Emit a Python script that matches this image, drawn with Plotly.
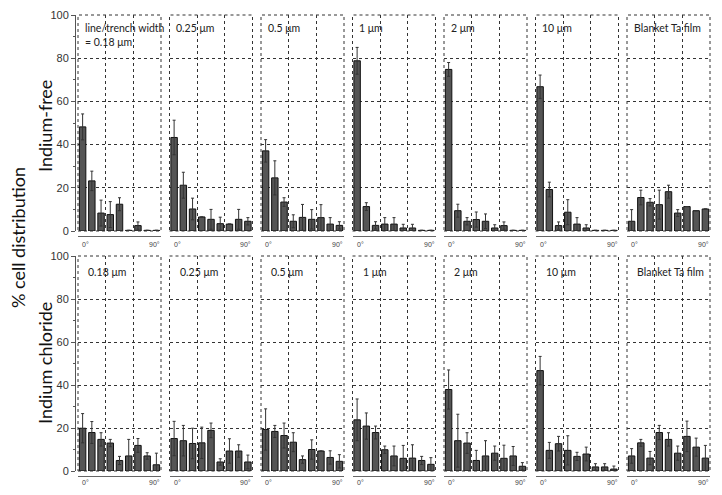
import plotly.graph_objects as go
from plotly.subplots import make_subplots

# 10-degree angle bins, 0..90
angles = [5, 15, 25, 35, 45, 55, 65, 75, 85]
angle_ends = ["0°", "90°"]

top_labels = ["line/trench width<br>= 0.18 μm", "0.25 μm", "0.5 μm", "1 μm",
              "2 μm", "10 μm", "Blanket Ta film"]
bottom_labels = ["0.18 μm", "0.25 μm", "0.5 μm", "1 μm",
                 "2 μm", "10 μm", "Blanket Ta film"]

# Indium-free (top row)
free_vals = [
    [48.2, 23.2, 8.3, 7.6, 12.4, 0.3, 2.5, 0.3, 0.3],
    [43.3, 21.2, 10.2, 6.5, 5.4, 3.4, 3.2, 5.4, 4.5],
    [37.1, 24.6, 13.4, 4.5, 6.3, 5.4, 6.2, 3.2, 2.6],
    [78.8, 11.3, 2.6, 3.2, 3.2, 1.4, 1.4, 0.3, 0.3],
    [74.8, 9.4, 4.5, 5.3, 4.5, 1.4, 2.5, 0.3, 0.3],
    [66.8, 19.2, 2.5, 8.7, 3.2, 1.4, 0.3, 0.3, 0.3],
    [4.5, 15.5, 13.3, 12.2, 18.2, 8.3, 11.3, 9.4, 10.2],
]
free_err = [
    [6.0, 4.5, 6.0, 6.0, 3.0, None, 1.7, None, None],
    [8.0, 6.0, 5.0, None, 4.6, 3.0, None, 4.6, 1.7],
    [5.2, 7.9, 2.0, 3.0, 6.0, 4.5, 6.0, 3.0, 1.7],
    [6.2, 1.8, 1.7, 3.0, 3.0, 1.7, 1.7, None, None],
    [3.2, 3.0, 1.7, 3.5, 3.4, 1.5, 1.7, None, None],
    [5.4, 3.4, 1.7, 5.8, 3.0, 1.5, None, None, None],
    [5.4, 3.4, 1.7, 6.7, 3.0, 1.6, None, None, None],
]

# Indium chloride (bottom row)
chloride_vals = [
    [19.9, 17.9, 14.7, 13.0, 4.9, 7.0, 11.9, 7.0, 2.9],
    [15.1, 14.1, 12.8, 13.1, 18.9, 4.2, 9.3, 9.3, 4.2],
    [19.3, 18.4, 16.5, 13.4, 5.3, 10.0, 9.3, 6.3, 4.5],
    [23.8, 20.9, 17.9, 9.9, 7.0, 5.9, 6.0, 4.9, 3.1],
    [37.9, 14.1, 13.0, 4.9, 7.0, 8.3, 5.9, 7.0, 2.2],
    [46.7, 9.6, 12.7, 9.6, 6.8, 7.9, 1.9, 1.9, 0.9],
    [7.0, 13.1, 6.0, 17.9, 14.7, 8.3, 16.1, 11.1, 6.0],
]
chloride_err = [
    [6.8, 5.1, 3.1, 1.7, 1.9, 7.7, 3.2, 1.5, 5.4],
    [8.0, 7.1, 7.1, 7.3, 3.4, 1.5, 5.7, 2.9, 3.2],
    [9.6, 2.8, 5.8, 4.4, 1.7, 4.5, None, 3.1, 3.1],
    [9.7, 6.1, 3.0, 1.7, 4.6, 6.0, 6.2, 1.9, 3.1],
    [9.1, 12.3, 4.8, 4.7, 7.1, 3.3, 6.1, 4.4, 1.7],
    [6.6, 3.7, 3.4, 6.8, 1.9, 3.2, 1.5, 1.5, 1.4],
    [3.4, 1.6, 3.1, 3.3, 3.1, 3.3, 7.1, 4.2, 5.9],
]

# the page body has an 8px margin, so the figure is drawn 8px in from the window edge
PAD = 8
W, H = 722 - 2 * PAD, 495 - 2 * PAD


def px(x):
    return (x - PAD) / W


def py(y):
    return 1 - (y - PAD) / H


fig = make_subplots(rows=2, cols=7)

rows = [(free_vals, free_err, top_labels), (chloride_vals, chloride_err, bottom_labels)]
row_px = [(15, 231), (256, 471)]      # top / bottom pixel (window coords) of each row
bracket_px = [236, 476]
end_label_px = [244, 482]
label_pos = [(0.06, 0.975), (0.1, 0.965)]

for r, (vals, errs, labels) in enumerate(rows):
    for c in range(7):
        fig.add_trace(go.Bar(
            x=angles, y=vals[c],
            marker=dict(color="#555555", line=dict(color="#111111", width=1)),
            error_y=dict(type="data", array=errs[c], color="#333333",
                         thickness=1, width=1.5),
            width=7,
        ), row=r + 1, col=c + 1)

        left = 78 + c * 91.5
        ytop, ybot = row_px[r]
        fig.update_xaxes(
            domain=[px(left), px(left + 83)], range=[0, 90], automargin=False,
            anchor="free", position=py(bracket_px[r]),
            tickvals=[0, 90], showticklabels=False,
            ticks="inside", ticklen=4, tickcolor="#666666",
            showline=True, linecolor="#666666", linewidth=1,
            showgrid=False, zeroline=False,
            minor=dict(tickmode="array", tickvals=[30, 60], showgrid=True,
                       gridcolor="#333333", griddash="dot", gridwidth=1, ticks=""),
            row=r + 1, col=c + 1)

        yargs = dict(
            domain=[py(ybot), py(ytop)], range=[0, 100], automargin=False,
            tickvals=[0, 20, 40, 60, 80, 100],
            showgrid=True, gridcolor="#333333", griddash="dot", gridwidth=1,
            zeroline=False,
        )
        if c == 0:
            yargs.update(
                anchor="free", position=px(75),
                showline=True, linecolor="#555555", linewidth=1,
                ticks="outside", ticklen=4, tickcolor="#555555",
                tickfont=dict(family="Liberation Sans", size=11, color="#333333"),
                minor=dict(dtick=10, ticks="outside", ticklen=2, tickcolor="#555555"),
            )
        else:
            yargs.update(showticklabels=False, ticks="")
        fig.update_yaxes(**yargs, row=r + 1, col=c + 1)

        n = r * 7 + c + 1
        xref = "x domain" if n == 1 else f"x{n} domain"
        yref = "y domain" if n == 1 else f"y{n} domain"
        # dotted panel frame
        fig.add_shape(type="rect", xref=xref, yref=yref, x0=0, x1=1, y0=0, y1=1,
                      line=dict(color="#333333", width=1, dash="dot"), layer="above")
        lx, ly = label_pos[r]
        fig.add_annotation(
            text=labels[c], xref=xref, yref=yref, x=lx, y=ly,
            xanchor="left", yanchor="top", showarrow=False, align="left",
            font=dict(family="Lato", size=10.5, color="#222222"))
        # 0° / 90° under the bracket
        for k, anchor in enumerate(["left", "right"]):
            fig.add_annotation(
                text=angle_ends[k], xref=xref, yref="paper", x=k,
                y=py(end_label_px[r]), xanchor=anchor, yanchor="middle",
                showarrow=False, xshift=2 if k == 0 else 1,
                font=dict(family="Liberation Sans", size=7, color="#444444"))

# row and axis titles
titles = [("% cell distribution", 18, 238, 18), ("Indium-free", 45, 126, 18),
          ("Indium chloride", 45, 363, 18)]
for text, tx, ty, fs in titles:
    fig.add_annotation(text=text, x=px(tx), y=py(ty), xanchor="center", yanchor="middle",
                       xref="paper", yref="paper", textangle=-90, showarrow=False,
                       font=dict(family="Lato", size=fs, color="#111111"))

fig.update_layout(
    width=W, height=H,
    margin=dict(l=0, r=0, t=0, b=0),
    plot_bgcolor="white", paper_bgcolor="white",
    showlegend=False, bargap=0.25,
)

fig.write_html("out.html")
